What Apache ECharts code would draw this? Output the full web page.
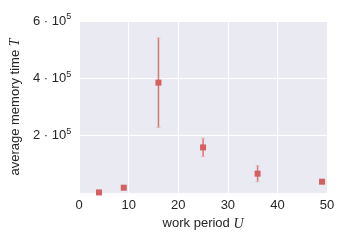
<!DOCTYPE html>
<html><head><meta charset="utf-8">
<script src="https://cdn.jsdelivr.net/npm/echarts@6/dist/echarts.min.js"></script>
<style>html,body{margin:0;padding:0;background:#fff}#c{width:349px;height:240px}</style>
</head><body><div id="c"></div>
<script>
var workPeriods = [4, 9, 16, 25, 36, 49];
var meanTimes = [2000, 18500, 385000, 159000, 67400, 39400];
var errLow = [1000, 16000, 229000, 127000, 39500, 36000];
var errHigh = [3000, 21000, 541000, 191000, 95300, 43000];
var yTicks = [200000, 400000, 600000];
var xTicks = [0, 10, 20, 30, 40, 50];

var red = '#d65f5f';
var font = 'Liberation Sans';
var chart = echarts.init(document.getElementById('c'));
var pts = workPeriods.map(function(u, i){ return [u, meanTimes[i]]; });
var errs = workPeriods.map(function(u, i){ return [u, errLow[i], errHigh[i]]; });

chart.setOption({
  animation: false,
  grid: {left: 78, right: 22, top: 21, bottom: 47, backgroundColor: '#eaeaf2', show: true, borderWidth: 0},
  xAxis: {
    type: 'value', min: 0, max: 50, interval: 10,
    name: 'work period {i|U}', nameLocation: 'middle', nameGap: 21,
    nameTextStyle: {fontFamily: font, fontSize: 13, color: '#262626',
      rich: {i: {fontFamily: 'Liberation Serif', fontStyle: 'italic', fontSize: 14, color: '#262626'}}},
    axisLine: {show: false}, axisTick: {show: false},
    axisLabel: {fontFamily: font, fontSize: 13, color: '#262626', margin: 6,
      showMinLabel: true, showMaxLabel: true},
    splitLine: {show: true, lineStyle: {color: '#ffffff', width: 1}}
  },
  yAxis: {
    type: 'value', min: 0, max: 600000, interval: 200000,
    name: 'average memory time {i|T}', nameLocation: 'middle', nameGap: 50, nameRotate: 90,
    nameTextStyle: {fontFamily: font, fontSize: 13, color: '#262626',
      rich: {i: {fontFamily: 'Liberation Serif', fontStyle: 'italic', fontSize: 14, color: '#262626'}}},
    axisLine: {show: false}, axisTick: {show: false},
    axisLabel: {
      margin: 8, color: '#262626',
      formatter: function(v){
        if (yTicks.indexOf(v) < 0) return '';
        return '{n|' + (v / 100000) + ' · 10}{s|5}';
      },
      rich: {
        n: {fontFamily: font, fontSize: 13, color: '#262626'},
        s: {fontFamily: font, fontSize: 9, color: '#262626', verticalAlign: 'top', padding: [0, 0, 8, 0]}
      }
    },
    splitLine: {show: true, lineStyle: {color: '#ffffff', width: 1}}
  },
  series: [
    {
      type: 'custom', data: errs, z: 2,
      renderItem: function(params, api){
        var x = api.value(0);
        var lo = api.coord([x, api.value(1)]);
        var hi = api.coord([x, api.value(2)]);
        return {type: 'group', children: [
          {type: 'line', shape: {x1: lo[0], y1: lo[1], x2: hi[0], y2: hi[1]}, style: {stroke: red, lineWidth: 1.5, opacity: 0.85}},
          {type: 'line', shape: {x1: lo[0]-2, y1: lo[1], x2: lo[0]+2, y2: lo[1]}, style: {stroke: '#e8b5b8', lineWidth: 1}},
          {type: 'line', shape: {x1: hi[0]-2, y1: hi[1], x2: hi[0]+2, y2: hi[1]}, style: {stroke: '#e8b5b8', lineWidth: 1}}
        ]};
      }
    },
    {
      type: 'scatter', data: pts, symbol: 'rect', symbolSize: 6, z: 3,
      itemStyle: {color: red, opacity: 1}
    }
  ]
});
</script></body></html>
